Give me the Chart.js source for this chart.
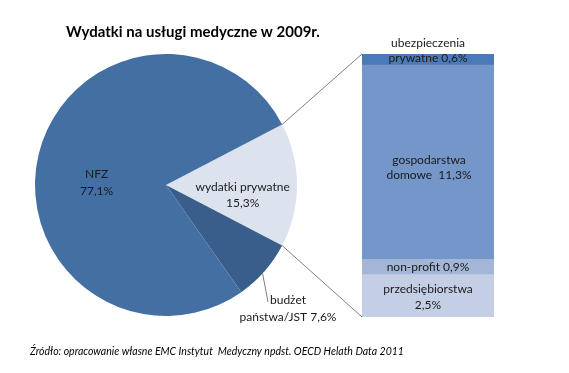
<!DOCTYPE html>
<html><head><meta charset="utf-8">
<script src="https://cdn.jsdelivr.net/npm/chart.js@4/dist/chart.umd.min.js"></script>
<style>
html,body{margin:0;padding:0;background:#fff;}
#wrap{position:relative;width:569px;height:373px;}
canvas{position:absolute;left:0;top:0;}
</style></head><body>
<div id="wrap"><canvas id="pie" width="569" height="373"></canvas><canvas id="bar" width="569" height="373"></canvas></div>
<script>
const title = "Wydatki na usługi medyczne w 2009r.";
const source = "Źródło: opracowanie własne EMC Instytut  Medyczny npdst. OECD Helath Data 2011";
const pieLabels = ["wydatki prywatne", "budżet państwa/JST", "NFZ"];
const pieValues = [15.3, 7.6, 77.1];
const pieColors = ["#dce3ef", "#3a5e8b", "#436fa3"];
const barLabels = ["ubezpieczenia prywatne", "gospodarstwa domowe", "non-profit", "przedsiębiorstwa"];
const barValues = [0.6, 11.3, 0.9, 2.5];
const barColors = ["#4a7ab7", "#7496c8", "#a3b6d8", "#c4cfe5"];

const fmt = v => v.toFixed(1).replace('.', ',') + '%';
const FONT = "Lato, 'Open Sans', sans-serif";
const TXT = "#1a1a1a";
const total = pieValues.reduce((a,b)=>a+b,0);
const rotation = 90 - (pieValues[0]/total*360)/2;

function lines(ctx, arr, x, y, lh){ arr.forEach((t,i)=>ctx.fillText(t, x, y + i*lh)); }

const pieLabelPlugin = {
  id:'pieLabels',
  afterDraw(chart){
    const ctx = chart.ctx;
    const arcs = chart.getDatasetMeta(0).data;
    const a0 = arcs[0];
    const cx = a0.x, cy = a0.y, r = a0.outerRadius;
    ctx.save();
    ctx.fillStyle = "#000";
    ctx.font = "bold 15px " + FONT;
    ctx.textAlign = 'center'; ctx.textBaseline = 'middle';
    ctx.fillText(title, 193, 32);
    ctx.font = "italic 10.5px " + FONT;
    ctx.textAlign = 'left';
    ctx.fillText(source, 30, 352);
    ctx.fillStyle = TXT;
    ctx.font = "12px " + FONT;
    ctx.textAlign = 'center';
    lines(ctx, ["NFZ", fmt(pieValues[2])], cx - 0.53*r, cy - 11, 17);
    lines(ctx, [pieLabels[0], fmt(pieValues[0])], cx + 0.585*r, cy + 2, 16);
    const b = arcs[1];
    const mid = (b.startAngle + b.endAngle)/2;
    const px = cx + Math.cos(mid)*r, py = cy + Math.sin(mid)*r;
    ctx.strokeStyle = "#7f7f7f"; ctx.lineWidth = 1;
    ctx.beginPath(); ctx.moveTo(px - 2, py + 2); ctx.lineTo(268, 302); ctx.stroke();
    lines(ctx, ["budżet", "państwa/JST " + fmt(pieValues[1])], 288, 300, 17);
    ctx.restore();
  }
};

const pieChart = new Chart(document.getElementById('pie'), {
  type:'pie',
  data:{labels:pieLabels, datasets:[{data:pieValues, backgroundColor:pieColors, borderWidth:0}]},
  options:{
    responsive:false, animation:false, rotation: rotation,
    layout:{padding:{left:35, right:272, top:54, bottom:57}},
    plugins:{legend:{display:false}, tooltip:{enabled:false}, title:{display:false}}
  },
  plugins:[pieLabelPlugin]
});

const barLabelPlugin = {
  id:'barLabels',
  afterDraw(chart){
    const ctx = chart.ctx;
    ctx.save();
    const arc = pieChart.getDatasetMeta(0).data[0];
    const seg = i => chart.getDatasetMeta(i).data[0];
    const topY = i => Math.min(seg(i).y, seg(i).base);
    const botY = i => Math.max(seg(i).y, seg(i).base);
    const midY = i => (seg(i).y + seg(i).base)/2;
    const first = seg(0);
    const left = first.x - first.width/2;
    const p1x = arc.x + Math.cos(arc.startAngle)*arc.outerRadius, p1y = arc.y + Math.sin(arc.startAngle)*arc.outerRadius;
    const p2x = arc.x + Math.cos(arc.endAngle)*arc.outerRadius, p2y = arc.y + Math.sin(arc.endAngle)*arc.outerRadius;
    ctx.strokeStyle = "#7f7f7f"; ctx.lineWidth = 1;
    ctx.beginPath();
    ctx.moveTo(p1x, p1y); ctx.lineTo(left, topY(0));
    ctx.moveTo(p2x, p2y); ctx.lineTo(left, botY(barValues.length-1));
    ctx.stroke();
    ctx.fillStyle = TXT;
    ctx.font = "12px " + FONT;
    ctx.textAlign = 'center'; ctx.textBaseline = 'middle';
    const cxb = first.x;
    lines(ctx, ["ubezpieczenia", "prywatne " + fmt(barValues[0])], cxb, topY(0) - 11, 15.5);
    lines(ctx, ["gospodarstwa", "domowe  " + fmt(barValues[1])], cxb + 1, midY(1) - 1, 15);
    ctx.fillText("non-profit " + fmt(barValues[2]), cxb, midY(2) + 1);
    lines(ctx, ["przedsiębiorstwa", fmt(barValues[3])], cxb, midY(3) - 6, 16);
    ctx.restore();
  }
};

new Chart(document.getElementById('bar'), {
  type:'bar',
  data:{labels:[''], datasets: barValues.map((v,i)=>({label:barLabels[i], data:[v], backgroundColor:barColors[i], borderWidth:0, barPercentage:1, categoryPercentage:1}))},
  options:{
    responsive:false, animation:false,
    layout:{padding:{left:362, right:75, top:54, bottom:56}},
    scales:{
      x:{display:false, stacked:true},
      y:{display:false, stacked:true, reverse:true, min:0, max:barValues.reduce((a,b)=>a+b,0)}
    },
    plugins:{legend:{display:false}, tooltip:{enabled:false}}
  },
  plugins:[barLabelPlugin]
});
</script>
</body></html>
